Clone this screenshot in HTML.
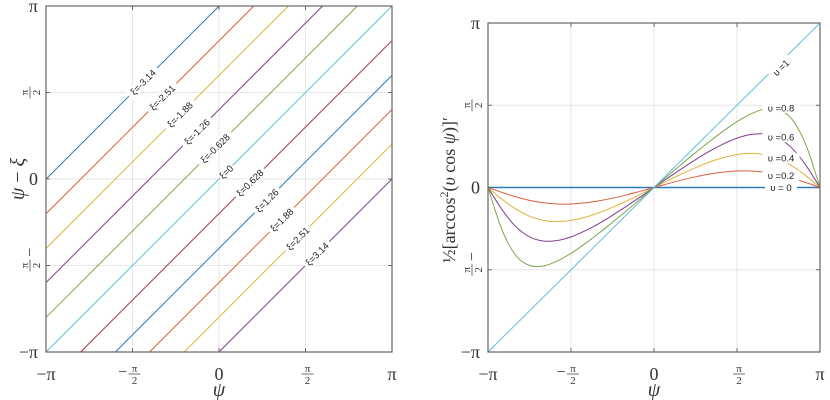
<!DOCTYPE html>
<html><head><meta charset="utf-8"><style>
body{margin:0;background:#fff;}
svg{display:block;font-family:"Liberation Serif",serif;}
.lbl{font-family:"Liberation Sans",sans-serif;font-size:9.5px;fill:#222;}
</style></head><body>
<svg id="svg" width="830" height="400">
<g id="left"></g>
<g id="right"></g>
</svg>
<script>
const PI = Math.PI;
const xiValues = [-3.14,-2.51,-1.88,-1.26,-0.628,0,0.628,1.26,1.88,2.51,3.14];
const xiLabels = ["ξ=-3.14","ξ=-2.51","ξ=-1.88","ξ=-1.26","ξ=-0.628","ξ=0","ξ=0.628","ξ=1.26","ξ=1.88","ξ=2.51","ξ=3.14"];
const xiLabelPsi = [-1.38,-1.03,-0.71,-0.40,-0.07,0.13,0.56,0.87,1.14,1.43,1.78];
const upsilonValues = [0,0.2,0.4,0.6,0.8,1];
const upsilonLabels = ["υ = 0","υ =0.2","υ =0.4","υ =0.6","υ =0.8","υ =1"];
const labelPsi = [2.29,2.29,2.29,2.29,2.29,2.29];
const labelVal = [0,0.23,0.56,0.96,1.52,2.29];
const psiDeg = [-180,-165,-150,-135,-120,-105,-90,-75,-60,-45,-30,-15,0,15,30,45,60,75,90,105,120,135,150,165,180];
const s0 = [0,0,0,0,0,0,0,0,0,0,0,0,0,0,0,0,0,0,0,0,0,0,0,0,0];
const s02 = [0,-0.093,-0.177,-0.245,-0.291,-0.314,-0.314,-0.294,-0.256,-0.204,-0.142,-0.073,0,0.073,0.142,0.204,0.256,0.294,0.314,0.314,0.291,0.245,0.177,0.093,0];
const s04 = [0,-0.221,-0.410,-0.548,-0.627,-0.651,-0.628,-0.570,-0.484,-0.379,-0.260,-0.132,0,0.132,0.260,0.379,0.484,0.570,0.628,0.651,0.627,0.548,0.410,0.221,0];
const s06 = [0,-0.417,-0.744,-0.941,-1.022,-1.013,-0.943,-0.830,-0.690,-0.531,-0.360,-0.182,0,0.182,0.360,0.531,0.690,0.830,0.943,1.013,1.022,0.941,0.744,0.417,0];
const s08 = [0,-0.801,-1.296,-1.490,-1.499,-1.405,-1.257,-1.076,-0.876,-0.665,-0.447,-0.225,0,0.225,0.447,0.665,0.876,1.076,1.257,1.405,1.499,1.490,1.296,0.801,0];
const s10 = [-3.142,-2.880,-2.618,-2.356,-2.094,-1.833,-1.571,-1.309,-1.047,-0.785,-0.524,-0.262,0,0.262,0.524,0.785,1.047,1.309,1.571,1.833,2.094,2.356,2.618,2.880,3.142];
const series = [s0,s02,s04,s06,s08,s10];
const tickVals = [-PI,-PI/2,0,PI/2,PI];
const colors = ["#2b7bb9","#d9603a","#e3b23c","#7e3f8e","#7ba84a","#5fc0e0","#a2343f"];
const NS="http://www.w3.org/2000/svg";
function mk(tag,attrs,parent){const e=document.createElementNS(NS,tag);for(const k in attrs)e.setAttribute(k,attrs[k]);parent.appendChild(e);return e;}

function axes(g,x0,x1,y0,y1){
  const sx=v=>x0+(v+PI)/(2*PI)*(x1-x0);
  const sy=v=>y1-(v+PI)/(2*PI)*(y1-y0);
  tickVals.forEach(t=>{
    const gx=mk('line',{x1:sx(t),x2:sx(t),y1:y0,y2:y1,stroke:'#e6e6e6','stroke-width':1},g);
    
    const gy=mk('line',{x1:x0,x2:x1,y1:sy(t),y2:sy(t),stroke:'#e6e6e6','stroke-width':1},g);
    
  });
  return {sx,sy};
}
function frame(g,x0,x1,y0,y1,sx,sy){
  const r=mk('rect',{x:x0,y:y0,width:x1-x0,height:y1-y0,fill:'none',stroke:'#666','stroke-width':1.2},g);
  
  tickVals.forEach(t=>{
    mk('line',{x1:sx(t),x2:sx(t),y1:y1,y2:y1-4,stroke:'#666'},g);
    mk('line',{x1:sx(t),x2:sx(t),y1:y0,y2:y0+4,stroke:'#666'},g);
    mk('line',{x1:x0,x2:x0+4,y1:sy(t),y2:sy(t),stroke:'#666'},g);
    mk('line',{x1:x1,x2:x1-4,y1:sy(t),y2:sy(t),stroke:'#666'},g);
  });
  const xt=['−π','−π/2','0','π/2','π'];
  tickVals.forEach((t,i)=>{
    const l=xt[i];let el;
    if(l.includes('/')){
      el=mk('g',{},g);
      if(l.startsWith('−')) mk('text',{x:sx(t)-10,y:y1+25,'font-size':16,'text-anchor':'middle',fill:'#333'},el).textContent='−';
      mk('text',{x:sx(t)+2,y:y1+20,'font-size':11,'text-anchor':'middle',fill:'#333'},el).textContent='π';
      mk('line',{x1:sx(t)-4,x2:sx(t)+8,y1:y1+22,y2:y1+22,stroke:'#333','stroke-width':0.7},el);
      mk('text',{x:sx(t)+2,y:y1+32,'font-size':11,'text-anchor':'middle',fill:'#333'},el).textContent='2';
    } else {
      el=mk('text',{x:sx(t),y:y1+28,'font-size':18,'text-anchor':'middle',fill:'#333'},g);el.textContent=l;
    }
    
  });
  const yt=['−π','−π/2','0','π/2','π'];
  tickVals.forEach((t,i)=>{
    const l=yt[i];let el;
    if(l.includes('/')){
      el=mk('g',{transform:`translate(${x0-16},${sy(t)}) rotate(-90)`},g);
      if(l.startsWith('−')) mk('text',{x:13,y:5,'font-size':16,'text-anchor':'middle',fill:'#333'},el).textContent='−';
      mk('text',{x:0,y:-2,'font-size':11,'text-anchor':'middle',fill:'#333'},el).textContent='π';
      mk('line',{x1:-6,x2:6,y1:0,y2:0,stroke:'#333','stroke-width':0.7},el);
      mk('text',{x:0,y:10,'font-size':11,'text-anchor':'middle',fill:'#333'},el).textContent='2';
    } else {
      el=mk('text',{x:x0-8,y:sy(t)+6,'font-size':18,'text-anchor':'end',fill:'#333'},g);el.textContent=l;
    }
    
  });
  const xl=mk('text',{x:(x0+x1)/2,y:y1+44,'font-size':20,'font-style':'italic','text-anchor':'middle',fill:'#333'},g);
  xl.textContent='ψ';
}

// LEFT
const L=document.getElementById('left');
const lx0=46,lx1=392,ly0=6,ly1=352;
const la=axes(L,lx0,lx1,ly0,ly1);
const ang=Math.atan2(la.sy(1)-la.sy(0),la.sx(1)-la.sx(0))*180/PI;
xiValues.forEach((xi,i)=>{
  const a=Math.max(-PI,-PI+xi), b=Math.min(PI,PI+xi);
  const ln=mk('line',{x1:la.sx(a),y1:la.sy(a-xi),x2:la.sx(b),y2:la.sy(b-xi),stroke:colors[i%7],'stroke-width':1},L);
  
  const p=xiLabelPsi[i];const cx=la.sx(p),cy=la.sy(p-xi);
  const g=mk('g',{transform:`translate(${cx},${cy}) rotate(${ang})`},L);
  
  const w=xiLabels[i].length*5.4;
  mk('rect',{x:-w/2-1,y:-5,width:w+2,height:10,fill:'#fff'},g);
  mk('text',{x:0,y:3.5,'text-anchor':'middle',class:'lbl'},g).textContent=xiLabels[i];
});
frame(L,lx0,lx1,ly0,ly1,la.sx,la.sy);
const lyl=mk('text',{transform:`translate(24,179) rotate(-90)`,'font-size':20,'text-anchor':'middle',fill:'#333'},L);
lyl.innerHTML='<tspan font-style="italic">ψ</tspan> − <tspan font-style="italic">ξ</tspan>';


// RIGHT
const R=document.getElementById('right');
const rx0=488,rx1=820,ry0=23,ry1=352;
const ra=axes(R,rx0,rx1,ry0,ry1);
function smoothPath(xs,ys){
  let d=`M${xs[0]},${ys[0]}`;
  for(let i=0;i<xs.length-1;i++){
    const x0=xs[Math.max(0,i-1)],y0=ys[Math.max(0,i-1)],x1=xs[i],y1=ys[i],x2=xs[i+1],y2=ys[i+1],x3=xs[Math.min(xs.length-1,i+2)],y3=ys[Math.min(xs.length-1,i+2)];
    d+=` C${x1+(x2-x0)/6},${y1+(y2-y0)/6} ${x2-(x3-x1)/6},${y2-(y3-y1)/6} ${x2},${y2}`;
  }
  return d;
}
series.forEach((s,i)=>{
  const xs=psiDeg.map(d=>ra.sx(d*PI/180)), ys=s.map(v=>ra.sy(v));
  const p=mk('path',{d:smoothPath(xs,ys),fill:'none',stroke:colors[i],'stroke-width':i==0?1.6:1},R);
  
});
upsilonLabels.forEach((t,i)=>{
  const cx=ra.sx(labelPsi[i])+6, cy=ra.sy(labelVal[i]);
  const g=mk('g',{transform:i==5?`translate(${cx},${cy}) rotate(-45)`:`translate(${cx},${cy})`},R);
  
  const w=t.length*5.2;
  mk('rect',{x:-w/2-3,y:-5,width:w+6,height:10,fill:'#fff'},g);
  mk('text',{x:0,y:3.5,'text-anchor':'middle',class:'lbl'},g).textContent=t;
});
frame(R,rx0,rx1,ry0,ry1,ra.sx,ra.sy);
const ryl=mk('text',{transform:`translate(455,190) rotate(-90)`,'font-size':18,'text-anchor':'middle',fill:'#333'},R);
ryl.innerHTML='½[arccos<tspan font-size="12" dy="-7">2</tspan><tspan dy="7">(</tspan><tspan font-style="italic">υ</tspan> cos <tspan font-style="italic">ψ</tspan>)]′';

</script>
</body></html>
